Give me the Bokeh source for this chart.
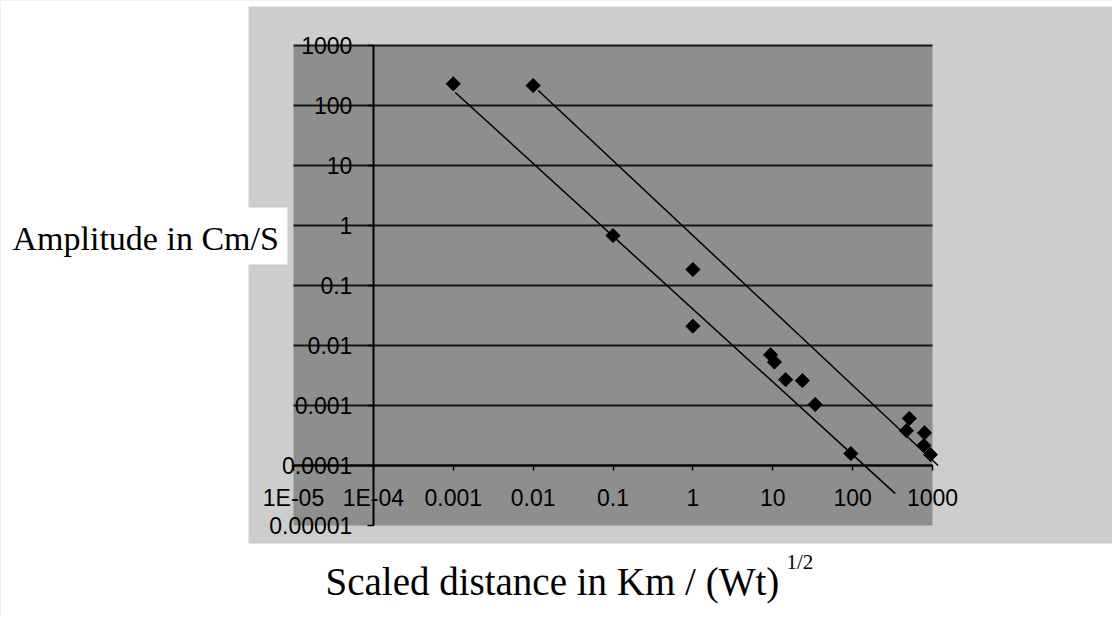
import math
from bokeh.plotting import figure
from bokeh.models import FixedTicker, BoxAnnotation, Label, LogAxis
from bokeh.embed import file_html
from bokeh.resources import INLINE

# ---- data ----
pt_x = [0.001, 0.01, 0.1, 1, 1, 9.4, 10.5, 14.5, 23.5, 34, 95, 513, 472, 794, 780, 944]
pt_y = [230, 215, 0.68, 0.185, 0.021, 0.0070, 0.0053, 0.0027, 0.0026, 0.00104, 0.000158,
        0.00061, 0.00038, 0.00035, 0.000215, 0.000152]

fit1_x = [0.00106, 342]
fit1_y = [165, 0.000034]
fit2_x = [0.0116, 1175]
fit2_y = [178, 0.0001]

x_ticks = [1e-5, 1e-4, 1e-3, 1e-2, 1e-1, 1, 10, 100, 1000]
x_labels = ["1E-05", "1E-04", "0.001", "0.01", "0.1", "1", "10", "100", "1000"]
y_ticks = [1e-5, 1e-4, 1e-3, 1e-2, 1e-1, 1, 10, 100, 1000]
y_labels = ["0.00001", "0.0001", "0.001", "0.01", "0.1", "1", "10", "100", "1000"]
y_grid = [1e-4, 1e-3, 1e-2, 1e-1, 1, 10, 100, 1000]
axis_cross = 1e-4

y_title = "Amplitude in Cm/S"
x_title = "Scaled distance in Km  /  (Wt)"
x_title_sup = "1/2"

# ---- layout helpers: page pixel -> data value (frame covers the whole canvas) ----
W, H = 1112, 616
ORIGIN = 0                          # canvas starts at page (0, 0)
PX_PER_DEC_X, PX_PER_DEC_Y = 79.875, 60.0
X_LEFT_PX, Y_TOP_PX = 293, 45      # page pixel of x=1e-5 and y=1e3


def fx(px):
    return 10 ** (math.log10(x_ticks[0]) + (px - X_LEFT_PX) / PX_PER_DEC_X)


def fy(py):
    return 10 ** (math.log10(y_ticks[-1]) - (py - Y_TOP_PX) / PX_PER_DEC_Y)


p = figure(width=W, height=H, x_axis_type="log", y_axis_type="log",
           x_range=(fx(ORIGIN), fx(ORIGIN + W)), y_range=(fy(ORIGIN + H), fy(ORIGIN)),
           x_axis_location=None, y_axis_location=None,
           output_backend="svg", toolbar_location=None,
           min_border=0, min_border_left=0, min_border_right=0,
           min_border_top=0, min_border_bottom=0,
           background_fill_color="#cdcdcd", border_fill_color="white",
           outline_line_color=None)
p.xgrid.visible = False
p.ygrid.visible = False

# white page areas outside the grey chart box, and the white title box
for l, r, t, b in [(fx(ORIGIN), fx(248), fy(ORIGIN), fy(ORIGIN + H)),
                   (fx(ORIGIN), fx(ORIGIN + W), fy(543), fy(ORIGIN + H)),
                   (fx(ORIGIN), fx(6), fy(ORIGIN), fy(ORIGIN + 6)),
                   (fx(ORIGIN), fx(287), fy(207), fy(264))]:
    p.add_layout(BoxAnnotation(left=l, right=r, top=t, bottom=b,
                               fill_color="white", fill_alpha=1.0, line_color=None,
                               level="image"))
# thin white strip above the grey box
p.add_layout(BoxAnnotation(left=fx(ORIGIN), right=fx(ORIGIN + W), top=fy(ORIGIN), bottom=fy(6),
                           fill_color="white", fill_alpha=1.0, line_color=None, level="image"))

# dark plot area
p.add_layout(BoxAnnotation(left=x_ticks[0], right=x_ticks[-1], bottom=y_ticks[0], top=y_ticks[-1],
                           fill_color="#8e8e8e", fill_alpha=1.0, line_color=None,
                           level="image"))

# horizontal grid lines
p.segment(x0=[x_ticks[0]] * len(y_grid), x1=[x_ticks[-1]] * len(y_grid),
          y0=y_grid, y1=y_grid, line_color="#151515", line_width=2)

# axes crossing inside the plot
xa = LogAxis(ticker=FixedTicker(ticks=x_ticks), fixed_location=axis_cross,
             bounds=(x_ticks[0], x_ticks[-1]))
ya = LogAxis(ticker=FixedTicker(ticks=y_ticks), fixed_location=axis_cross,
             bounds=(y_ticks[0], y_ticks[-1]))
for ax, ticks, labels in [(xa, x_ticks, x_labels), (ya, y_ticks, y_labels)]:
    ax.major_label_overrides = dict(zip(ticks, labels))
    ax.axis_line_color = "black"
    ax.axis_line_width = 2
    ax.major_tick_line_color = "black"
    ax.major_tick_line_width = 1.5
    ax.major_tick_in = 0
    ax.minor_tick_line_color = None
    ax.major_label_text_font = "Liberation Sans"
    ax.major_label_text_font_size = "23px"
    ax.major_label_text_color = "black"
    ax.major_label_orientation = "horizontal"
xa.major_tick_out = 5
xa.major_label_standoff = 14
ya.major_tick_out = 6
ya.major_label_standoff = 15
p.add_layout(xa, "below")
p.add_layout(ya, "left")

# trend lines and points
p.line(fit1_x, fit1_y, line_color="black", line_width=1.5)
p.line(fit2_x, fit2_y, line_color="black", line_width=1.5)
p.scatter(pt_x, pt_y, marker="square", angle=math.pi / 4, size=10,
          fill_color="black", line_color="black")

# titles
p.add_layout(Label(x=fx(12), y=fy(238), text=y_title,
                   text_font="Liberation Serif", text_font_size="34px",
                   text_color="black", text_baseline="alphabetic"))
p.add_layout(Label(x=fx(325), y=fy(581), text=x_title,
                   text_font="Liberation Serif", text_font_size="39px",
                   text_color="black", text_baseline="alphabetic"))
p.add_layout(Label(x=fx(786), y=fy(561), text=x_title_sup,
                   text_font="Liberation Serif", text_font_size="21px",
                   text_color="black", text_baseline="alphabetic"))

open("out.html", "w").write(file_html(p, INLINE))
